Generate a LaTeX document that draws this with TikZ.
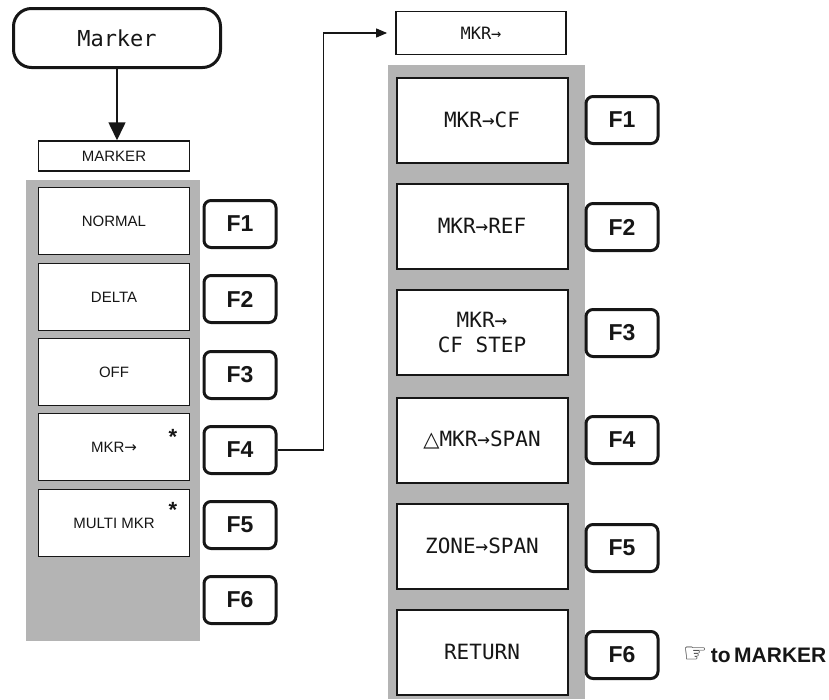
\documentclass[tikz,border=0pt]{standalone}
\usepackage{fontspec}
\setmainfont{Liberation Sans}
\newfontfamily\crtfont{DejaVu Sans Mono}
\newfontfamily\symfont{DejaVu Sans}
\usetikzlibrary{arrows.meta}
\definecolor{mkpanel}{HTML}{B4B4B4}
\definecolor{mkink}  {HTML}{161616}

\begin{document}
\begin{tikzpicture}[x=1pt, y=-1pt,
    every node/.style={inner sep=0pt, text=mkink},
    menubox/.style={draw=mkink, fill=white, line width=1.8pt,
      minimum width=151pt, minimum height=67pt, font=\fontsize{15}{17}\selectfont},
    crtbox/.style={draw=mkink, fill=white, line width=2pt, align=center,
      minimum width=171pt, minimum height=85pt, font=\crtfont\fontsize{21}{25}\selectfont},
    keycap/.style={draw=mkink, fill=white, line width=3pt, rounded corners=7pt,
      minimum width=72pt, minimum height=47pt, font=\bfseries\fontsize{23}{25}\selectfont}]
      \useasboundingbox (0,0) rectangle (829,699);
      % left menu
      \node[draw=mkink, line width=3pt, rounded corners=18pt, minimum width=207pt,
            minimum height=59pt, font=\crtfont\fontsize{22}{24}\selectfont]
        (marker) at (117,38) {Marker};
      \node[draw=mkink, line width=1.5pt, minimum width=151pt, minimum height=30pt,
            font=\fontsize{15}{17}\selectfont] (hdrL) at (114,156) {MARKER};
      \draw[mkink, line width=1.6pt, -{Triangle[length=18pt,width=17pt]}]
        (marker.south) -- (marker.south |- hdrL.north);
      \fill[mkpanel] (26,180) rectangle (200,641);
      \foreach \n/\y/\t in {nrm/221/NORMAL, dlt/297/DELTA, off/372/OFF,
                            mkr/447/MKR{\symfont →}, mlt/523/MULTI MKR}
        \node[menubox] (\n) at (114,\y) {\t};
      \node[font=\bfseries\fontsize{22}{22}\selectfont] (astA) at (173,437) {*};
      \node[font=\bfseries\fontsize{22}{22}\selectfont] (astB) at (173,510) {*};
      \foreach \k/\y in {1/224, 2/299, 3/375, 4/450, 5/525, 6/600}
        \node[keycap] (lf\k) at (240,\y) {F\k};
      % right menu
      \node[draw=mkink, line width=1.8pt, minimum width=170pt, minimum height=43pt,
            font=\crtfont\fontsize{17}{19}\selectfont] (hdrR) at (481,33) {MKR→};
      \fill[mkpanel] (388,65) rectangle (585,699);
      \node[crtbox] (cf)   at (482,120) {MKR→CF};
      \node[crtbox] (ref)  at (482,226) {MKR→REF};
      \node[crtbox] (stp)  at (482,332) {MKR→\\CF STEP};
      \node[crtbox] (spn)  at (482,440) {{\symfont △}MKR→SPAN};
      \node[crtbox] (zone) at (482,546) {ZONE→SPAN};
      \node[crtbox] (ret)  at (482,652) {RETURN};
      \foreach \k/\y in {1/120, 2/227, 3/333, 4/440, 5/548, 6/655}
        \node[keycap] (rf\k) at (622,\y) {F\k};
      \node[anchor=west, font=\bfseries\fontsize{21}{23}\selectfont]
        (back) at (683,655) {{\symfont\fontsize{27}{27}\selectfont ☞}\,to\,MARKER};
      \draw[mkink, line width=1.2pt, -{Triangle[length=11pt,width=9pt]}, shorten >=8pt]
        (lf4.east) -- ++(46,0) |- (hdrR.west);
    \end{tikzpicture}
\end{document}
